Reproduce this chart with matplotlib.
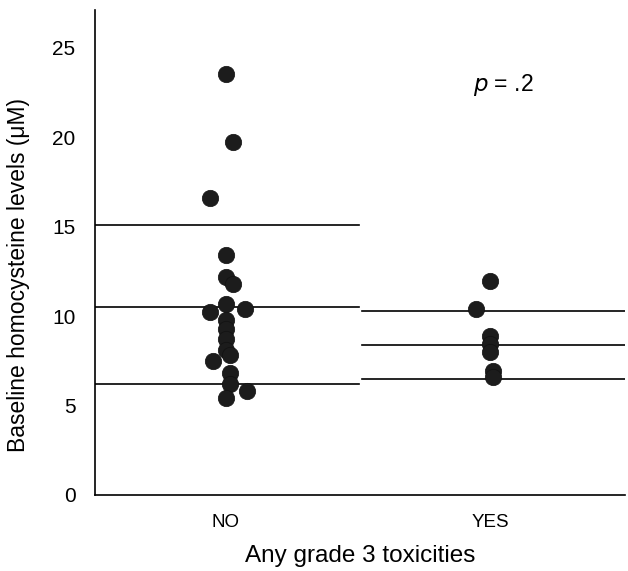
import matplotlib
matplotlib.use("Agg")
import matplotlib.pyplot as plt

plt.rcParams['font.family'] = ['Liberation Sans', 'DejaVu Sans']

categories = ["NO", "YES"]
no_values = [23.5, 19.7, 16.6, 13.4, 12.2, 11.8, 10.7, 10.2, 10.4, 9.8, 9.3,
             8.7, 8.1, 7.8, 7.5, 6.8, 6.2, 5.8, 5.4]
no_jitter = [0.0, 0.027, -0.06, 0.0, 0.0, 0.027, 0.0, -0.06, 0.072, 0.0, 0.0,
             0.0, 0.0, 0.015, -0.05, 0.015, 0.015, 0.08, 0.0]
yes_values = [11.97, 10.39, 8.88, 8.43, 7.98, 6.91, 6.57]
yes_jitter = [0.0, -0.053, 0.0, 0.0, 0.0, 0.01, 0.01]
# horizontal reference lines (upper, centre, lower)
no_lines = [15.1, 10.5, 6.2]
yes_lines = [10.3, 8.4, 6.5]
y_ticks = [0, 5, 10, 15, 20, 25]

fig = plt.figure(figsize=(6.28, 5.71), dpi=100)
ax = fig.add_axes([95/628, 1 - 495/571, 530/628, 485/571])

xl, xr = -0.496, 1.511
ax.set_xlim(xl, xr)
ax.set_ylim(0, 27.1)

for v in no_lines:
    ax.plot([xl, 0.505], [v, v], color='black', lw=1.2, zorder=1)
for v in yes_lines:
    ax.plot([0.515, xr], [v, v], color='black', lw=1.2, zorder=1)

ax.plot([0 + j for j in no_jitter], no_values, 'o', ms=11.8,
        color='#1c1c1c', mec='#111111', mew=0.5, zorder=3)
ax.plot([1 + j for j in yes_jitter], yes_values, 'o', ms=11.8,
        color='#1c1c1c', mec='#111111', mew=0.5, zorder=3)

ax.set_xticks([0, 1])
ax.set_xticklabels(categories, fontsize=13.5)
ax.set_yticks(y_ticks)
ax.set_yticklabels([str(t) for t in y_ticks], fontsize=15)
ax.tick_params(axis='both', length=0)
ax.tick_params(axis='y', pad=14)
ax.tick_params(axis='x', pad=14)

for s in ['top', 'right']:
    ax.spines[s].set_visible(False)
for s in ['left', 'bottom']:
    ax.spines[s].set_linewidth(1.2)

ax.set_xlabel("Any grade 3 toxicities", fontsize=17.5, labelpad=10)
ax.set_ylabel("Baseline homocysteine levels (\u03bcM)", fontsize=16.5)
ax.yaxis.set_label_coords(-0.123, 0.454)

ax.text(1.05, 22.9, "$p$ = .2", fontsize=16.5, ha='center', va='center',
        math_fontfamily='dejavusans')

fig.savefig("out.png", dpi=100)
